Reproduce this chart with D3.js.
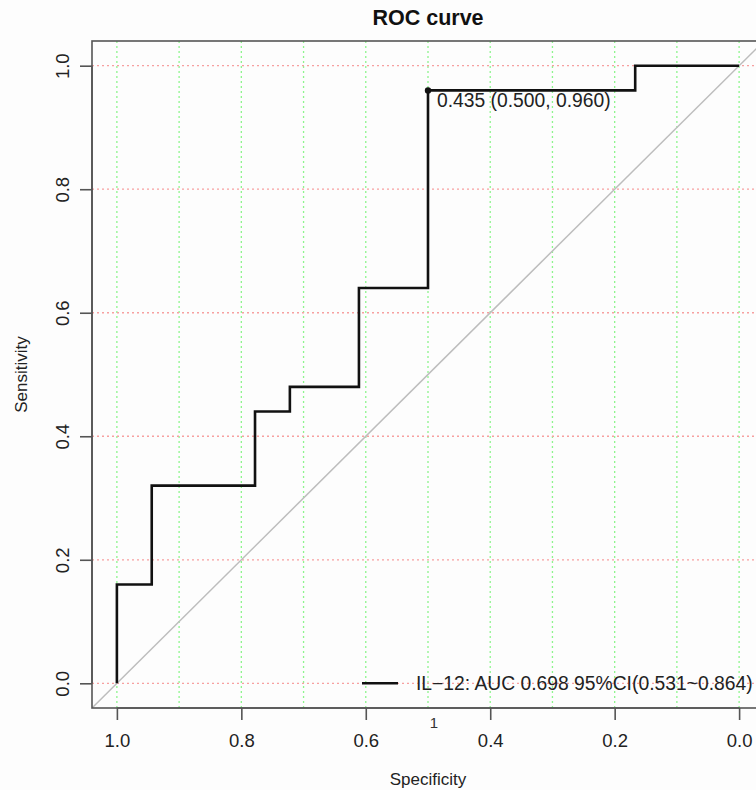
<!DOCTYPE html>
<html>
<head>
<meta charset="utf-8">
<script src="https://cdn.jsdelivr.net/npm/d3@7"></script>
<style>
  body { margin: 0; background: #fdfdfd; }
  svg { display: block; font-family: "Liberation Sans", Arial, sans-serif; }
</style>
</head>
<body>
<div id="chart"><svg width="756" height="790"></svg></div>
<script>
// ROC steps (specificity, sensitivity)
const specificity = [1.0, 1.0, 0.944, 0.944, 0.778, 0.778, 0.722, 0.722, 0.611, 0.611, 0.5, 0.5, 0.167, 0.167, 0.0];
const sensitivity = [0.0, 0.16, 0.16, 0.32, 0.32, 0.44, 0.44, 0.48, 0.48, 0.64, 0.64, 0.96, 0.96, 1.0, 1.0];
const xTicks = [1.0, 0.8, 0.6, 0.4, 0.2, 0.0];
const yTicks = [0.0, 0.2, 0.4, 0.6, 0.8, 1.0];
const xGrid = [1.0, 0.9, 0.8, 0.7, 0.6, 0.5, 0.4, 0.3, 0.2, 0.1, 0.0];
const best = { threshold: 0.435, spec: 0.5, sens: 0.96 };
const legendText = "IL\u221212: AUC 0.698 95%CI(0.531~0.864)";

const svg = d3.select("#chart svg");
const margin = { left: 92, top: 41, right: 764, bottom: 708 };

const x = d3.scaleLinear().domain([1.04, -0.04]).range([margin.left, margin.right]);
const y = d3.scaleLinear().domain([-0.04, 1.04]).range([margin.bottom, margin.top]);

svg.append("clipPath").attr("id", "plotclip")
  .append("rect")
  .attr("x", margin.left).attr("y", margin.top)
  .attr("width", margin.right - margin.left).attr("height", margin.bottom - margin.top);

const plot = svg.append("g").attr("clip-path", "url(#plotclip)");

// grid
plot.selectAll(".vgrid").data(xGrid).enter().append("line")
  .attr("x1", (d) => x(d)).attr("x2", (d) => x(d))
  .attr("y1", margin.top).attr("y2", margin.bottom)
  .attr("stroke", "#8df58d").attr("stroke-width", 1.3).attr("stroke-dasharray", "2,3");

plot.selectAll(".hgrid").data(yTicks).enter().append("line")
  .attr("x1", margin.left).attr("x2", margin.right)
  .attr("y1", (d) => y(d)).attr("y2", (d) => y(d))
  .attr("stroke", "#f7a0a0").attr("stroke-width", 1.3).attr("stroke-dasharray", "2,3");

// diagonal
plot.append("line")
  .attr("x1", x(1.04)).attr("y1", y(-0.04))
  .attr("x2", x(-0.04)).attr("y2", y(1.04))
  .attr("stroke", "#bdbdbd").attr("stroke-width", 1.5);

// curve
const line = d3.line().x((d) => x(d[0])).y((d) => y(d[1]));
plot.append("path")
  .datum(specificity.map((s, i) => [s, sensitivity[i]]))
  .attr("d", line)
  .attr("fill", "none").attr("stroke", "#111").attr("stroke-width", 2.6);

plot.append("circle")
  .attr("cx", x(best.spec)).attr("cy", y(best.sens)).attr("r", 3.2)
  .attr("fill", "#111");

plot.append("text")
  .attr("x", x(best.spec) + 9).attr("y", y(best.sens) + 17)
  .attr("font-size", 19.3).attr("fill", "#222")
  .text(`${best.threshold.toFixed(3)} (${best.spec.toFixed(3)}, ${best.sens.toFixed(3)})`);

// legend
plot.append("line")
  .attr("x1", 362).attr("x2", 398).attr("y1", y(0)).attr("y2", y(0))
  .attr("stroke", "#111").attr("stroke-width", 2.4);
plot.append("text")
  .attr("x", 416).attr("y", y(0) + 7)
  .attr("font-size", 19.3).attr("fill", "#222")
  .text(legendText);

// box
svg.append("rect")
  .attr("x", margin.left).attr("y", margin.top)
  .attr("width", margin.right - margin.left).attr("height", margin.bottom - margin.top)
  .attr("fill", "none").attr("stroke", "#555").attr("stroke-width", 1.6);

// axes
const xAxis = svg.append("g")
  .attr("transform", `translate(0,${margin.bottom})`)
  .call(d3.axisBottom(x).tickValues(xTicks).tickFormat(d3.format(".1f")).tickSize(12).tickPadding(14));
const yAxis = svg.append("g")
  .attr("transform", `translate(${margin.left},0)`)
  .call(d3.axisLeft(y).tickValues(yTicks).tickFormat(d3.format(".1f")).tickSize(12).tickPadding(0));

xAxis.select(".domain").attr("d", `M${x(1)},0H${x(0)}`).attr("stroke", "#555").attr("stroke-width", 1.6);
yAxis.select(".domain").attr("d", `M0,${y(0)}V${y(1)}`).attr("stroke", "#555").attr("stroke-width", 1.6);
svg.selectAll(".tick line").attr("stroke", "#555").attr("stroke-width", 1.6);
svg.selectAll(".tick text").attr("font-size", 18.5).attr("fill", "#222").attr("font-family", "Liberation Sans, Arial, sans-serif");

yAxis.selectAll(".tick text")
  .attr("x", null).attr("dy", null)
  .attr("text-anchor", "middle")
  .attr("transform", "translate(-29,0) rotate(-90)")
  .attr("y", 0).attr("dy", "0.35em");

// stray label under the axis
svg.append("text")
  .attr("x", 434).attr("y", 728)
  .attr("text-anchor", "middle").attr("font-size", 15).attr("fill", "#333")
  .text("1");

// titles
svg.append("text")
  .attr("x", (margin.left + margin.right) / 2).attr("y", 25)
  .attr("text-anchor", "middle").attr("font-size", 21.5).attr("font-weight", "bold").attr("fill", "#111")
  .text("ROC curve");

svg.append("text")
  .attr("x", (margin.left + margin.right) / 2).attr("y", 785)
  .attr("text-anchor", "middle").attr("font-size", 17).attr("fill", "#222")
  .text("Specificity");

svg.append("text")
  .attr("transform", `translate(27,${(margin.top + margin.bottom) / 2}) rotate(-90)`)
  .attr("text-anchor", "middle").attr("font-size", 17).attr("fill", "#222")
  .text("Sensitivity");
</script>
</body>
</html>
